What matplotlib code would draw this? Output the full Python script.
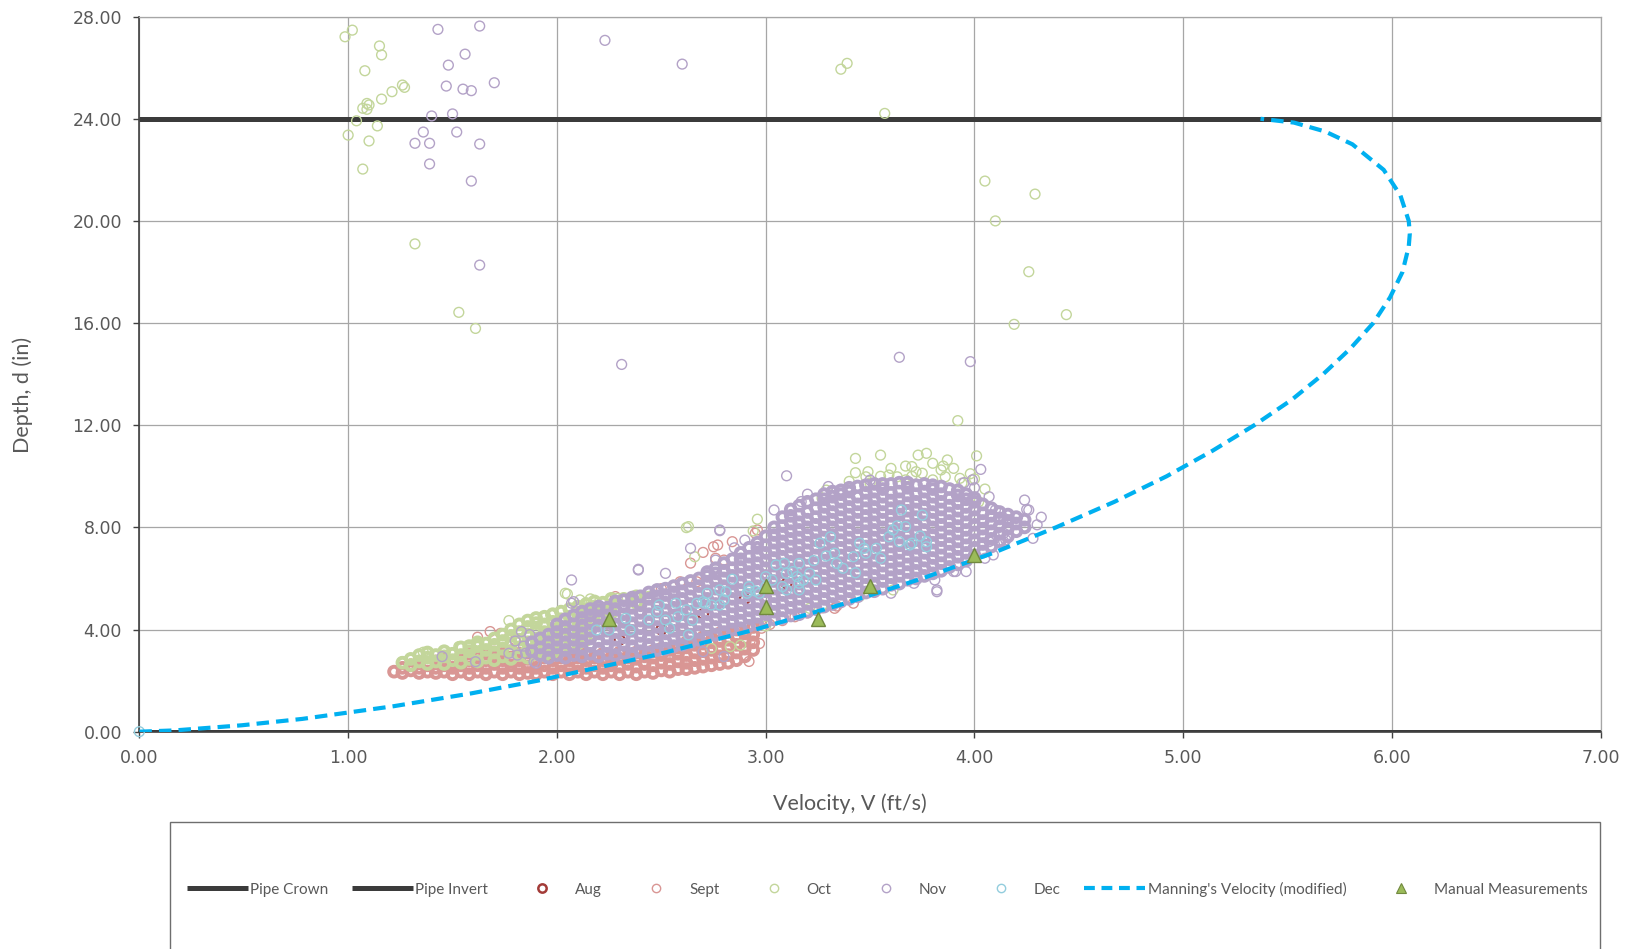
import numpy as np
import matplotlib.pyplot as plt
from matplotlib.lines import Line2D
from matplotlib.patches import Rectangle
from matplotlib.ticker import FormatStrFormatter

# pipe crown / invert (24 in pipe)
pipe_v = [0.0, 7.0]
crown_d = [24.0, 24.0]
invert_d = [0.0, 0.0]

# Manning's velocity for the partially full pipe (depth in, velocity ft/s)
manning_d = [0.0, 0.05, 0.25, 0.5, 1.0, 1.5, 2.0, 3.0, 4.0, 5.0, 6.0, 7.0, 8.0, 9.0,
             10.0, 11.0, 12.0, 13.0, 14.0, 15.0, 16.0, 17.0, 18.0, 19.0, 19.5, 20.0,
             21.0, 22.0, 23.0, 23.5, 23.85, 24.0]
manning_v = [0.0, 0.17, 0.49, 0.78, 1.22, 1.59, 1.91, 2.47, 2.95, 3.37, 3.75, 4.09, 4.39, 4.67,
             4.92, 5.14, 5.34, 5.52, 5.67, 5.80, 5.91, 5.99, 6.05, 6.08, 6.085, 6.08,
             6.04, 5.96, 5.81, 5.68, 5.53, 5.37]

# field checks
manual_v = [2.25, 3.00, 3.00, 3.25, 3.50, 4.00]
manual_d = [4.40, 5.70, 4.90, 4.40, 5.70, 6.90]

# meter readings, (velocity, depth); the dense core is kept as (velocity, [depths]) columns
aug_pts = [(2.30, 3.60), (2.50, 4.00), (2.70, 4.60), (2.90, 5.20), (3.10, 5.80)]

sept_cols = [
    (1.22, [2.35]), (1.26, [2.3, 2.5]), (1.30, [2.4, 2.6]), (1.34, [2.3, 2.5, 2.7]),
    (1.38, [2.35, 2.6]), (1.42, [2.3, 2.5, 2.75]), (1.46, [2.35, 2.6, 2.85]),
    (1.50, [2.25, 2.5, 2.75]), (1.54, [2.35, 2.6, 2.85]), (1.58, [2.25, 2.5, 2.8, 3.05]),
    (1.62, [2.35, 2.6, 2.9]), (1.66, [2.25, 2.5, 2.8, 3.05]), (1.70, [2.35, 2.65, 2.9, 3.1]),
    (1.74, [2.25, 2.5, 2.8, 3.05]), (1.78, [2.35, 2.6, 2.9, 3.15]), (1.82, [2.25, 2.5, 2.8, 3.05]),
    (1.86, [2.3, 2.55, 2.85, 3.1]), (1.90, [2.25, 2.5, 2.8, 3.05]), (1.94, [2.35, 2.6, 2.9]),
    (1.98, [2.25, 2.5, 2.8, 3.05]), (2.02, [2.35, 2.6, 2.9]), (2.06, [2.25, 2.5, 2.8, 3.05]),
    (2.10, [2.35, 2.6, 2.9]), (2.14, [2.25, 2.5, 2.8, 3.05]), (2.18, [2.35, 2.6, 2.9]),
    (2.22, [2.25, 2.5, 2.8, 3.05]), (2.26, [2.35, 2.6, 2.9]), (2.30, [2.25, 2.55, 2.85, 3.1]),
    (2.34, [2.35, 2.65, 2.9]), (2.38, [2.25, 2.55, 2.85, 3.1]), (2.42, [2.35, 2.65, 2.95]),
    (2.46, [2.3, 2.6, 2.9, 3.15]), (2.50, [2.4, 2.7, 3.0, 3.25]), (2.54, [2.35, 2.65, 2.95, 3.2]),
    (2.58, [2.45, 2.75, 3.05, 3.3]), (2.62, [2.45, 2.7, 3.0, 3.3, 3.5]), (2.66, [2.5, 2.8, 3.1, 3.4]),
    (2.70, [2.55, 2.85, 3.15, 3.45, 3.7]), (2.74, [2.6, 2.9, 3.2, 3.5]), (2.78, [2.65, 2.95, 3.25, 3.55, 3.85]),
    (2.82, [2.7, 3.0, 3.3, 3.6, 3.9]), (2.86, [2.8, 3.1, 3.4, 3.7, 4.0]), (2.90, [2.95, 3.25, 3.55, 3.85]),
    (2.94, [3.2, 3.5, 3.8, 4.1]),
]
sept_pts = [
    (2.98, 4.05), (3.02, 4.20), (3.08, 4.35), (3.14, 4.50), (3.20, 4.65), (3.27, 4.85),
    (3.33, 4.83), (3.42, 5.03), (3.34, 4.92), (2.28, 5.29), (2.59, 5.87), (2.67, 5.87),
    (2.75, 7.24), (2.76, 6.79), (2.84, 7.44), (2.96, 7.90), (2.77, 7.31), (2.80, 6.72),
    (2.95, 7.77), (2.70, 7.02), (2.64, 6.60), (1.68, 3.92), (1.73, 3.85), (1.62, 3.70),
    (1.80, 3.60), (2.40, 5.30), (2.50, 5.60), (2.97, 3.45), (2.92, 2.75),
]

oct_cols = [
    (1.26, [2.7]), (1.30, [2.6, 2.85]), (1.34, [2.75, 3.0]), (1.38, [2.65, 2.9, 3.1]),
    (1.42, [2.75, 3.0]), (1.46, [2.65, 2.95, 3.15]), (1.50, [2.8, 3.05]), (1.54, [2.7, 3.0, 3.3]),
    (1.58, [2.85, 3.15, 3.35]), (1.62, [2.75, 3.05, 3.35, 3.5]), (1.66, [2.9, 3.2, 3.45]),
    (1.70, [2.8, 3.1, 3.4, 3.65]), (1.74, [2.95, 3.25, 3.55, 3.8]), (1.78, [2.85, 3.15, 3.45, 3.75, 4.0]),
    (1.82, [3.0, 3.3, 3.6, 3.9, 4.2]), (1.86, [2.9, 3.2, 3.5, 3.8, 4.1, 4.35]),
    (1.90, [3.05, 3.35, 3.65, 3.95, 4.25, 4.45]), (1.94, [3.0, 3.3, 3.6, 3.9, 4.2, 4.5]),
    (1.98, [3.1, 3.4, 3.7, 4.0, 4.3, 4.6]), (2.02, [3.2, 3.5, 3.8, 4.1, 4.4, 4.7]),
    (2.06, [3.3, 3.6, 3.9, 4.2, 4.5, 4.8]), (2.10, [3.45, 3.75, 4.05, 4.35, 4.65, 4.9]),
    (2.14, [3.6, 3.9, 4.2, 4.5, 4.8, 5.0]), (2.18, [4.3, 4.6, 4.9, 5.1]), (2.22, [4.5, 4.8, 5.05]),
    (2.26, [4.65, 4.95, 5.2]), (2.32, [4.9, 5.2]), (2.38, [5.05, 5.3]), (2.44, [5.25]),
]
oct_pts = [
    (0.985, 27.21), (1.02, 27.47), (1.15, 26.85), (1.16, 26.50), (1.08, 25.88), (1.26, 25.32),
    (1.27, 25.23), (1.21, 25.06), (1.16, 24.77), (1.09, 24.60), (1.10, 24.54), (1.07, 24.41),
    (1.09, 24.37), (1.04, 23.92), (1.14, 23.72), (1.00, 23.36), (1.10, 23.13), (1.07, 22.03),
    (1.32, 19.10), (1.53, 16.42), (1.61, 15.79), (3.36, 25.94), (3.39, 26.17), (3.57, 24.21),
    (4.05, 21.56), (4.29, 21.05), (4.10, 20.00), (4.26, 18.01), (4.44, 16.33), (4.19, 15.95),
    (3.92, 12.18),
    (3.43, 10.70), (3.55, 10.83), (3.73, 10.83), (3.77, 10.90), (3.67, 10.40), (3.70, 10.38),
    (3.80, 10.51), (3.87, 10.64), (3.90, 10.31), (4.01, 10.80), (3.60, 10.31), (3.43, 10.14),
    (3.49, 10.18), (3.48, 9.98), (3.50, 9.73), (3.72, 10.18), (3.75, 10.12), (3.84, 10.25),
    (3.86, 9.98), (3.93, 9.92), (3.94, 9.73), (3.29, 9.46), (3.27, 9.14), (3.67, 9.86),
    (3.63, 9.98), (3.59, 10.05), (4.02, 9.00), (3.80, 9.86), (2.96, 8.32), (4.05, 9.50),
    (3.98, 10.10), (3.55, 10.00), (3.40, 9.80), (3.70, 10.00), (3.85, 10.40), (4.00, 9.90),
    (2.94, 7.86), (2.62, 7.99), (2.63, 8.03), (2.66, 6.85), (2.04, 5.42), (2.11, 5.16),
    (2.16, 5.20), (2.29, 5.22), (2.05, 5.39), (1.97, 4.57), (1.90, 4.44), (1.77, 4.35),
    (1.62, 3.43), (1.53, 3.33), (1.58, 3.26), (1.49, 3.07), (1.36, 3.11), (1.30, 2.65),
    (1.26, 2.74), (2.74, 3.26), (2.83, 3.33), (2.88, 3.39), (3.00, 4.14), (3.21, 4.83),
    (3.27, 4.95), (3.61, 5.55), (3.45, 5.30),
]

nov_cols = [
    (1.88, [3.15, 3.5]), (1.92, [3.0, 3.3, 3.65]),
    (1.96, [2.9, 3.2, 3.5, 3.8]), (2.00, [3.0, 3.3, 3.6, 3.9, 4.2]),
    (2.04, [2.9, 3.2, 3.5, 3.8, 4.1, 4.4]), (2.08, [3.0, 3.3, 3.6, 3.9, 4.2, 4.55]),
    (2.12, [2.95, 3.25, 3.55, 3.85, 4.15, 4.45, 4.7]), (2.16, [3.05, 3.35, 3.65, 3.95, 4.25, 4.55, 4.8]),
    (2.20, [2.95, 3.25, 3.55, 3.85, 4.15, 4.45, 4.75, 4.9]),
    (2.24, [3.05, 3.35, 3.65, 3.95, 4.25, 4.55, 4.85]),
    (2.28, [3.0, 3.3, 3.6, 3.9, 4.2, 4.5, 4.8, 5.1]),
    (2.32, [3.1, 3.4, 3.7, 4.0, 4.3, 4.6, 4.9, 5.15]),
    (2.36, [3.05, 3.35, 3.65, 3.95, 4.25, 4.55, 4.85, 5.15, 5.25]),
    (2.40, [3.15, 3.45, 3.75, 4.05, 4.35, 4.65, 4.95, 5.3]),
    (2.44, [3.1, 3.4, 3.7, 4.0, 4.3, 4.6, 4.9, 5.2, 5.45]),
    (2.48, [3.2, 3.5, 3.8, 4.1, 4.4, 4.7, 5.0, 5.3, 5.55]),
    (2.52, [3.25, 3.55, 3.85, 4.15, 4.45, 4.75, 5.05, 5.35, 5.6]),
    (2.56, [3.35, 3.65, 3.95, 4.25, 4.55, 4.85, 5.15, 5.45, 5.7]),
    (2.60, [3.4, 3.7, 4.0, 4.3, 4.6, 4.9, 5.2, 5.5, 5.8]),
    (2.64, [3.5, 3.8, 4.1, 4.4, 4.7, 5.0, 5.3, 5.6, 5.9]),
    (2.68, [3.6, 3.9, 4.2, 4.5, 4.8, 5.1, 5.4, 5.7, 6.0]),
    (2.72, [3.7, 4.0, 4.3, 4.6, 4.9, 5.2, 5.5, 5.8, 6.1, 6.25]),
    (2.76, [3.8, 4.1, 4.4, 4.7, 5.0, 5.3, 5.6, 5.9, 6.2, 6.4]),
    (2.80, [3.9, 4.2, 4.5, 4.8, 5.1, 5.4, 5.7, 6.0, 6.3, 6.6]),
    (2.84, [4.0, 4.3, 4.6, 4.9, 5.2, 5.5, 5.8, 6.1, 6.4, 6.75]),
    (2.88, [4.05, 4.35, 4.65, 4.95, 5.25, 5.55, 5.85, 6.15, 6.45, 6.75, 7.0]),
    (2.92, [4.15, 4.45, 4.75, 5.05, 5.35, 5.65, 5.95, 6.25, 6.55, 6.85, 7.2]),
    (2.96, [4.2, 4.5, 4.8, 5.1, 5.4, 5.7, 6.0, 6.3, 6.6, 6.9, 7.2, 7.4]),
    (3.00, [4.3, 4.6, 4.9, 5.2, 5.5, 5.8, 6.1, 6.4, 6.7, 7.0, 7.3, 7.65]),
    (3.04, [4.4, 4.7, 5.0, 5.3, 5.6, 5.9, 6.2, 6.5, 6.8, 7.1, 7.4, 7.7, 8.0]),
    (3.08, [4.45, 4.75, 5.05, 5.35, 5.65, 5.95, 6.25, 6.55, 6.85, 7.15, 7.45, 7.75, 8.05, 8.4]),
    (3.12, [4.55, 4.85, 5.15, 5.45, 5.75, 6.05, 6.35, 6.65, 6.95, 7.25, 7.55, 7.85, 8.15, 8.45, 8.7]),
    (3.16, [4.6, 4.9, 5.2, 5.5, 5.8, 6.1, 6.4, 6.7, 7.0, 7.3, 7.6, 7.9, 8.2, 8.5, 8.85]),
    (3.20, [4.7, 5.0, 5.3, 5.6, 5.9, 6.2, 6.5, 6.8, 7.1, 7.4, 7.7, 8.0, 8.3, 8.6, 9.0]),
    (3.24, [4.8, 5.1, 5.4, 5.7, 6.0, 6.3, 6.6, 6.9, 7.2, 7.5, 7.8, 8.1, 8.4, 8.75, 9.1]),
    (3.28, [4.9, 5.2, 5.5, 5.8, 6.1, 6.4, 6.7, 7.0, 7.3, 7.6, 7.9, 8.2, 8.5, 8.8, 9.1, 9.3]),
    (3.32, [5.0, 5.3, 5.6, 5.9, 6.2, 6.5, 6.8, 7.1, 7.4, 7.7, 8.0, 8.3, 8.6, 8.9, 9.2, 9.4]),
    (3.36, [5.1, 5.4, 5.7, 6.0, 6.3, 6.6, 6.9, 7.2, 7.5, 7.8, 8.1, 8.4, 8.7, 9.0, 9.3, 9.45]),
    (3.40, [5.2, 5.5, 5.8, 6.1, 6.4, 6.7, 7.0, 7.3, 7.6, 7.9, 8.2, 8.5, 8.8, 9.1, 9.4, 9.55]),
    (3.44, [5.3, 5.6, 5.9, 6.2, 6.5, 6.8, 7.1, 7.4, 7.7, 8.0, 8.3, 8.6, 8.9, 9.2, 9.6]),
    (3.48, [5.45, 5.75, 6.05, 6.35, 6.65, 6.95, 7.25, 7.55, 7.85, 8.15, 8.45, 8.75, 9.05, 9.35, 9.65]),
    (3.52, [5.5, 5.8, 6.1, 6.4, 6.7, 7.0, 7.3, 7.6, 7.9, 8.2, 8.5, 8.8, 9.1, 9.4, 9.7]),
    (3.56, [5.6, 5.9, 6.2, 6.5, 6.8, 7.1, 7.4, 7.7, 8.0, 8.3, 8.6, 8.9, 9.2, 9.5, 9.7]),
    (3.60, [5.75, 6.05, 6.35, 6.65, 6.95, 7.25, 7.55, 7.85, 8.15, 8.45, 8.75, 9.05, 9.35, 9.7]),
    (3.64, [5.8, 6.1, 6.4, 6.7, 7.0, 7.3, 7.6, 7.9, 8.2, 8.5, 8.8, 9.1, 9.4, 9.75]),
    (3.68, [5.95, 6.25, 6.55, 6.85, 7.15, 7.45, 7.75, 8.05, 8.35, 8.65, 8.95, 9.25, 9.55, 9.75]),
    (3.72, [6.0, 6.3, 6.6, 6.9, 7.2, 7.5, 7.8, 8.1, 8.4, 8.7, 9.0, 9.3, 9.65]),
    (3.76, [6.1, 6.4, 6.7, 7.0, 7.3, 7.6, 7.9, 8.2, 8.5, 8.8, 9.1, 9.4, 9.7]),
    (3.80, [6.2, 6.5, 6.8, 7.1, 7.4, 7.7, 8.0, 8.3, 8.6, 8.9, 9.2, 9.5, 9.65]),
    (3.84, [6.3, 6.6, 6.9, 7.2, 7.5, 7.8, 8.1, 8.4, 8.7, 9.0, 9.3, 9.6]),
    (3.88, [6.45, 6.75, 7.05, 7.35, 7.65, 7.95, 8.25, 8.55, 8.85, 9.15, 9.5]),
    (3.92, [6.55, 6.85, 7.15, 7.45, 7.75, 8.05, 8.35, 8.65, 8.95, 9.25, 9.45]),
    (3.96, [6.7, 7.0, 7.3, 7.6, 7.9, 8.2, 8.5, 8.8, 9.1, 9.3]),
    (4.00, [6.9, 7.2, 7.5, 7.8, 8.1, 8.4, 8.7, 9.0, 9.15]),
    (4.04, [7.05, 7.35, 7.65, 7.95, 8.25, 8.55, 8.9]),
    (4.08, [7.25, 7.55, 7.85, 8.15, 8.45, 8.75]),
    (4.12, [7.45, 7.75, 8.05, 8.35, 8.6]),
    (4.16, [7.65, 7.95, 8.25, 8.5]),
    (4.20, [7.85, 8.15, 8.4]),
    (4.24, [8.0, 8.3]),
]
nov_pts = [
    (1.43, 27.50), (1.63, 27.63), (1.56, 26.53), (1.48, 26.10), (1.47, 25.28), (1.55, 25.16),
    (1.59, 25.10), (1.70, 25.41), (1.40, 24.11), (1.50, 24.19), (1.36, 23.48), (1.52, 23.48),
    (1.32, 23.04), (1.39, 23.04), (1.63, 23.01), (1.39, 22.23), (1.59, 21.56), (1.63, 18.27),
    (2.23, 27.07), (2.60, 26.14), (2.31, 14.38), (3.64, 14.66), (3.98, 14.49),
    (3.10, 10.02), (3.17, 9.01), (3.04, 8.68), (4.07, 9.20), (4.10, 8.68), (4.14, 8.36),
    (4.17, 8.29), (4.09, 7.51), (4.14, 7.77), (4.03, 10.27), (3.99, 9.86), (2.78, 7.90),
    (4.24, 9.07), (4.26, 8.68), (3.96, 6.27), (3.82, 5.48), (3.60, 5.42), (3.91, 6.27),
    (4.05, 6.79), (4.15, 7.51), (4.28, 7.57), (3.71, 5.81), (3.82, 5.55), (3.81, 5.94),
    (3.90, 6.27), (4.09, 6.92), (4.07, 7.44), (4.14, 7.44), (2.07, 5.94), (2.08, 5.09),
    (2.39, 6.36), (2.52, 6.20), (2.64, 7.18), (2.78, 7.87), (2.76, 6.72), (2.47, 5.48),
    (2.72, 6.07), (2.80, 2.94), (2.70, 3.13), (1.45, 2.94), (1.61, 2.74), (1.83, 3.92),
    (1.77, 3.07), (1.81, 3.00), (1.89, 2.74), (2.07, 5.03), (1.85, 3.07), (1.90, 2.68),
    (2.39, 6.33), (3.95, 9.75), (4.00, 9.55), (3.50, 9.85), (3.30, 9.60), (3.20, 9.30),
    (2.90, 7.50), (2.85, 7.20), (4.30, 8.10), (4.32, 8.40), (4.25, 8.70), (1.84, 3.35),
    (1.87, 3.80), (1.80, 3.55),
]

dec_pts = [
    (0.00, 0.00),
    (2.19, 3.98), (2.25, 3.98), (2.33, 4.44), (2.35, 3.98), (2.44, 4.37), (2.48, 4.70),
    (2.49, 4.96), (2.52, 4.37), (2.54, 4.05), (2.57, 5.03), (2.58, 4.50), (2.62, 4.77),
    (2.63, 3.79), (2.65, 4.37), (2.67, 5.03), (2.70, 5.09), (2.74, 4.96), (2.78, 4.96),
    (2.81, 5.48), (2.84, 5.97), (2.92, 5.52), (2.95, 5.51), (2.72, 5.42), (2.71, 5.03),
    (2.80, 5.16), (2.78, 5.55), (2.91, 5.42), (2.92, 5.68), (2.97, 5.42), (3.00, 5.68),
    (3.00, 6.07), (3.03, 5.94), (3.05, 6.53), (3.08, 5.68), (3.10, 5.55), (3.10, 6.20),
    (3.13, 6.27), (3.15, 6.07), (3.16, 5.55), (3.16, 5.81), (3.16, 6.59), (3.18, 5.94),
    (3.21, 6.20), (3.23, 6.70), (3.24, 5.94), (3.26, 7.38), (3.29, 6.88), (3.31, 7.63),
    (3.33, 6.99), (3.34, 6.59), (3.37, 6.40), (3.43, 6.22), (3.42, 6.85), (3.45, 7.38),
    (3.47, 7.18), (3.48, 6.99), (3.53, 7.18), (3.55, 6.79), (3.59, 7.63), (3.61, 7.90),
    (3.63, 8.06), (3.64, 7.44), (3.65, 8.68), (3.67, 8.03), (3.69, 7.31), (3.70, 7.38),
    (3.74, 7.66), (3.75, 8.48), (3.77, 7.24), (3.77, 7.44), (3.09, 6.59),
]

month_labels = ["Aug", "Sept", "Oct", "Nov", "Dec"]
month_colors = ["#A33B38", "#D99694", "#C3D69B", "#B3A2C7", "#93CDDD"]
pipe_color = "#3B3B3B"
manning_color = "#00B0F0"
text_color = "#595959"

RING_LW = 1.0     # single readings
CORE_LW = 2.8     # heavily overplotted core of the cloud


def gather(cols, pts):
    v = [c for c, ds in cols for _ in ds] + [p[0] for p in pts]
    d = [x for _, ds in cols for x in ds] + [p[1] for p in pts]
    n_core = sum(len(ds) for _, ds in cols)
    lw = [CORE_LW] * n_core + [RING_LW] * len(pts)
    return np.array(v), np.array(d), np.array(lw)


months = [gather([], aug_pts), gather(sept_cols, sept_pts), gather(oct_cols, oct_pts),
          gather(nov_cols, nov_pts), gather([], dec_pts)]

fig = plt.figure(figsize=(16.32, 9.49), dpi=100)
ax = fig.add_axes([0.0854, 0.2290, 0.8955, 0.7535])

ax.plot(pipe_v, crown_d, color=pipe_color, lw=3.6, solid_capstyle="butt", zorder=2)
ax.plot(pipe_v, invert_d, color=pipe_color, lw=3.6, solid_capstyle="butt", zorder=2)

for i, ((v, d, lw), col) in enumerate(zip(months, month_colors)):
    if i == 0:
        lw = np.full_like(lw, 1.6)
    ax.scatter(v, d, s=50, facecolors="none", edgecolors=col, linewidths=lw,
               zorder=3 + i, clip_on=False)

ax.plot(manning_v, manning_d, color=manning_color, lw=3.0, dashes=(3.0, 1.7), zorder=9)
ax.plot(manual_v, manual_d, ls="none", marker="^", ms=10, mfc="#9BBB59", mec="#71893F",
        mew=1.0, zorder=10)

ax.set_xlim(0, 7)
ax.set_ylim(0, 28)
ax.set_xticks(np.arange(0, 8, 1))
ax.set_yticks(np.arange(0, 29, 4))
ax.xaxis.set_major_formatter(FormatStrFormatter("%.2f"))
ax.yaxis.set_major_formatter(FormatStrFormatter("%.2f"))
ax.grid(True, color="#A6A6A6", lw=0.9)
ax.set_axisbelow(True)
ax.tick_params(direction="out", length=4.5, width=1, color="#404040",
               labelcolor=text_color, labelsize=12.5, pad=8)
for lab in ax.get_xticklabels() + ax.get_yticklabels():
    lab.set_family("DejaVu Sans")

for side in ["top", "right"]:
    ax.spines[side].set_color("#A6A6A6")
    ax.spines[side].set_linewidth(0.9)
for side in ["left", "bottom"]:
    ax.spines[side].set_color("#404040")
    ax.spines[side].set_linewidth(1.2)

ax.set_xlabel("Velocity, V (ft/s)", fontsize=15.5, color=text_color, family="Lato")
ax.set_ylabel("Depth, d (in)", fontsize=15.5, color=text_color, family="Lato")
ax.xaxis.set_label_coords(0.4865, -0.086)
ax.yaxis.set_label_coords(-0.073, 0.471)

# legend panel below the plot
fig.patches.append(Rectangle((0.1039, -0.05), 0.8762, 0.1838, transform=fig.transFigure,
                             fill=False, ec="#6E6E6E", lw=1.0))

handles = [Line2D([], [], color=pipe_color, lw=3.6, solid_capstyle="butt"),
           Line2D([], [], color=pipe_color, lw=3.6, solid_capstyle="butt")]
for i, col in enumerate(month_colors):
    handles.append(Line2D([], [], ls="none", marker="o", ms=6, mfc="none", mec=col,
                          mew=1.8 if i == 0 else 1.0))
handles.append(Line2D([], [], color=manning_color, lw=3.0, dashes=(2.6, 1.6)))
handles.append(Line2D([], [], ls="none", marker="^", ms=6.5, mfc="#9BBB59", mec="#71893F", mew=0.8))
labels = ["Pipe Crown", "Pipe Invert"] + month_labels + ["Manning's Velocity (modified)",
                                                         "Manual Measurements"]

leg = fig.legend(handles, labels, loc="center", bbox_to_anchor=(0.5435, 0.0632),
                 ncol=9, frameon=False, handlelength=4.0, handletextpad=0.15,
                 columnspacing=1.55, prop={"family": "Lato", "size": 11})
for t in leg.get_texts():
    t.set_color(text_color)

fig.savefig("out.png", dpi=100)
